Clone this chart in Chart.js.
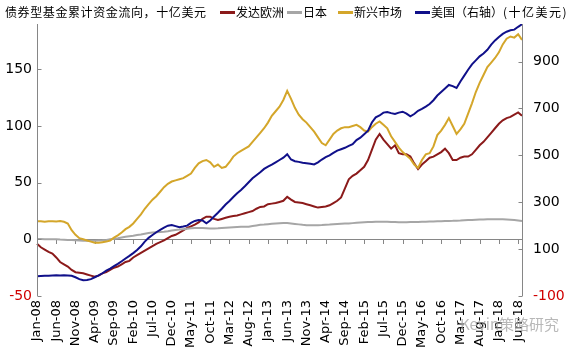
<!DOCTYPE html>
<html>
<head>
<meta charset="utf-8">
<script src="https://cdn.jsdelivr.net/npm/chart.js@4.4.0/dist/chart.umd.min.js"></script>
<style>
    body { margin: 0; background: #fff; }
    #wrap { position: relative; width: 570px; height: 350px; }
    .txt { position: absolute; font-family: "Noto Sans CJK SC"; font-size: 12px; line-height: 14px; color: #000; white-space: nowrap; }
    .sw { position: absolute; width: 15px; height: 3px; }
    .wm { position: absolute; font-family: "Noto Sans CJK SC", "DejaVu Sans"; font-size: 15px; color: rgba(160,160,160,0.75); white-space: nowrap; }
</style>
</head>
<body>
<div id="wrap">
    <canvas id="chart" width="570" height="350"></canvas>
</div>
<script>
// 月份 Jan-08 .. Jul-18
const MONTHS = ['Jan','Feb','Mar','Apr','May','Jun','Jul','Aug','Sep','Oct','Nov','Dec'];
const YEARS = ['08','09','10','11','12','13','14','15','16','17','18'];
const categories = [];
YEARS.forEach(y => MONTHS.forEach(m => categories.push(m + '-' + y)));
categories.length = 127;

const tickLabels = ['Jan-08','Jun-08','Nov-08','Apr-09','Sep-09','Feb-10','Jul-10','Dec-10','May-11','Oct-11',
    'Mar-12','Aug-12','Jan-13','Jun-13','Nov-13','Apr-14','Sep-14','Feb-15','Jul-15','Dec-15',
    'May-16','Oct-16','Mar-17','Aug-17','Jan-18','Jun-18'];
const leftTicks = [-50, 0, 50, 100, 150];
const rightTicks = [-100, 100, 300, 500, 700, 900];

const seriesNames = ['发达欧洲', '日本', '新兴市场', '美国（右轴）'];
const seriesColors = ['#8b1a1a', '#a6a6a6', '#d4a62a', '#10108a'];

// 发达欧洲
const europe = [-4,-7,-9,-11,-12.5,-16,-20,-22,-24,-27,-29,-29.5,-30,-31,-32,-33,-32,-30,-29,-27,
    -25,-24,-22,-20,-19,-16,-14,-12,-10,-8,-6,-4,-2.5,-1,1,3,4,6,8,10,
    11.5,13,15,18,20,20,18,17,18,19,20,20.5,21,22,23,24,25,27,28.6,29,
    31,31.5,32,33,34,37.5,35,33,32.5,32,31,30,29,28,28.5,29,30,32,34,37,
    45,53,56,58,61,64,70,79,88,93,88,84,80,83,76,75,75,73,67,62,
    66,69,72,73,75,77,80,76,70,70,72,73,73,75,79,83,86,90,94,98,
    102,105,107,108,110,112,109];
// 日本
const japan = [0.3,0.2,0.1,0,0,0,-0.2,-0.3,-0.5,-0.6,-0.8,-1,-1.2,-1.3,-1.3,-1.2,-1,-0.8,-0.5,0,
    0.5,1,1.6,2.2,2.7,3.2,3.8,4.3,5,5.6,6,6.3,6.5,6.7,7.2,7.8,8.3,8.6,9,9.4,
    9.8,10,10,10,9.8,9.6,9.5,9.7,10,10.2,10.4,10.6,10.8,11,11,11.2,11.8,12.3,12.8,13,
    13.4,13.8,14,14.2,14.4,14.4,14,13.6,13.2,12.8,12.5,12.4,12.4,12.5,12.6,12.8,13,13.3,13.6,13.8,
    14,14,14.3,14.6,14.8,15,15.2,15.4,15.5,15.5,15.6,15.5,15.4,15.2,15,15,15.1,15.2,15.3,15.4,
    15.5,15.6,15.7,15.8,16,16,16.1,16.2,16.3,16.5,16.6,16.8,17,17.1,17.3,17.5,17.6,17.7,17.8,17.8,
    17.8,17.7,17.5,17.3,17,16.6,16.2];
// 新兴市场
const emerging = [16,16,15.5,16,16,15.8,16.2,15.5,14,8,4,1,0,-1,-2,-3,-3,-2.5,-2,-1,
    1.5,3.5,6,9,11,14,18,22,27,31,35,38,42,46,49,51,52,53,54,56,
    58,63,67,69,70,68,64,66,63,64,68,73,76,78,80,82,86,90,94,98,
    103,109,113,117,123,131,124,116,110,106,103,99,95,90,85,83,88,93,96,98,
    99,99,100,101,99,96,95,99,102,104,101,98,91,86,81,77,74,71,66,63,
    70,75,76,82,92,96,101,107,100,93,97,102,111,120,130,138,145,152,156,160,
    165,172,177,179,178,181,176];
// 美国（右轴）
const usa = [-16,-15,-14,-14,-13,-12,-13,-12,-13,-14,-20,-28,-33,-32,-28,-20,-12,-3,8,17,
    27,37,48,60,71,83,96,112,132,148,160,172,182,192,200,203,198,193,196,200,
    212,220,224,222,210,222,239,255,272,290,305,322,338,352,368,385,402,415,428,442,
    452,460,470,480,490,505,482,475,472,468,466,464,461,470,482,492,500,510,520,526,
    532,540,547,565,575,590,605,640,662,670,682,685,680,676,682,686,678,666,676,690,
    698,708,719,735,755,770,785,800,795,787,815,840,865,888,905,922,934,950,972,990,
    1005,1018,1027,1033,1036,1048,1059];

const seriesData = [europe, japan, emerging, usa];
const AXIS_COLOR = '#868686';
const NEG_COLOR = '#d00000';

// 标题与图例
const wrap = document.getElementById('wrap');
function addText(text, left, top, extra) {
    const el = document.createElement('div');
    el.className = 'txt';
    el.textContent = text;
    el.style.left = left + 'px';
    el.style.top = top + 'px';
    if (extra) Object.assign(el.style, extra);
    wrap.appendChild(el);
}
addText('债券型基金累计资金流向，十亿美元', 5, 5, { letterSpacing: '0.6px' });

const legendX = [220, 287, 338, 415];
seriesNames.forEach((name, i) => {
    const sw = document.createElement('div');
    sw.className = 'sw';
    sw.style.left = legendX[i] + 'px';
    sw.style.top = '11px';
    sw.style.background = seriesColors[i];
    wrap.appendChild(sw);
    addText(name, legendX[i] + 16, 5);
});
addText('(十亿美元)', 503, 5, { letterSpacing: '1.5px' });

const wm = document.createElement('div');
wm.className = 'wm';
wm.textContent = 'Kevin策略研究';
wm.style.left = '460px';
wm.style.top = '313px';
wrap.appendChild(wm);

// 坐标轴线、零线与刻度
const axisPlugin = {
    id: 'axisLines',
    beforeDatasetsDraw(chart) {
        const { ctx, chartArea: a, scales } = chart;
        const y0 = scales.yL.getPixelForValue(0);
        ctx.save();
        ctx.strokeStyle = AXIS_COLOR;
        ctx.lineWidth = 1;
        ctx.beginPath();
        ctx.moveTo(a.left, Math.round(y0) + 0.5);
        ctx.lineTo(a.right, Math.round(y0) + 0.5);
        categories.forEach((c, i) => {
            if (!tickLabels.includes(c)) return;
            const x = Math.round(scales.x.getPixelForValue(i)) + 0.5;
            ctx.moveTo(x, Math.round(y0));
            ctx.lineTo(x, Math.round(y0) + 5);
        });
        ctx.stroke();
        ctx.restore();
    },
    afterDraw(chart) {
        const { ctx, chartArea: a, scales } = chart;
        const xl = Math.round(a.left) + 0.5;
        const xr = Math.round(a.right) + 0.5;
        ctx.save();
        ctx.strokeStyle = AXIS_COLOR;
        ctx.lineWidth = 1;
        ctx.beginPath();
        ctx.moveTo(xl, a.top);
        ctx.lineTo(xl, a.bottom);
        ctx.moveTo(xr, a.top);
        ctx.lineTo(xr, a.bottom);
        leftTicks.forEach(v => {
            const y = Math.round(scales.yL.getPixelForValue(v)) + 0.5;
            ctx.moveTo(xl, y);
            ctx.lineTo(xl + 4, y);
        });
        rightTicks.forEach(v => {
            const y = Math.round(scales.yR.getPixelForValue(v)) + 0.5;
            ctx.moveTo(xr, y);
            ctx.lineTo(xr - 4, y);
        });
        ctx.stroke();
        ctx.restore();
    }
};

new Chart(document.getElementById('chart').getContext('2d'), {
    type: 'line',
    data: {
        labels: categories,
        datasets: seriesData.map((d, i) => ({
            label: seriesNames[i],
            data: d,
            borderColor: seriesColors[i],
            backgroundColor: seriesColors[i],
            borderWidth: 2,
            pointRadius: 0,
            tension: 0,
            yAxisID: i === 3 ? 'yR' : 'yL',
            order: 4 - i
        }))
    },
    options: {
        responsive: false,
        devicePixelRatio: 1,
        animation: false,
        layout: { padding: { top: 24, left: 0, right: 0, bottom: 0 } },
        plugins: {
            legend: { display: false },
            tooltip: { enabled: false }
        },
        scales: {
            x: {
                type: 'category',
                offset: false,
                grid: { display: false, drawTicks: false },
                border: { display: false },
                ticks: {
                    autoSkip: false,
                    minRotation: 90,
                    maxRotation: 90,
                    padding: 4,
                    color: '#000',
                    font: { family: 'DejaVu Sans', size: 13 },
                    callback: function (val) {
                        const lab = this.getLabelForValue(val);
                        return tickLabels.includes(lab) ? lab : null;
                    }
                },
                afterFit(axis) { axis.height = 54; }
            },
            yL: {
                type: 'linear',
                position: 'left',
                min: -50,
                max: 190,
                grid: { display: false, drawTicks: false },
                border: { display: false },
                afterBuildTicks(axis) { axis.ticks = leftTicks.map(v => ({ value: v })); },
                ticks: {
                    padding: 5,
                    font: { family: 'DejaVu Sans', size: 14 },
                    color: ctx => ctx.tick && ctx.tick.value < 0 ? NEG_COLOR : '#000'
                },
                afterFit(axis) { axis.width = 37; }
            },
            yR: {
                type: 'linear',
                position: 'right',
                min: -100,
                max: 1060,
                grid: { display: false, drawTicks: false },
                border: { display: false },
                afterBuildTicks(axis) { axis.ticks = rightTicks.map(v => ({ value: v })); },
                ticks: {
                    padding: 11,
                    font: { family: 'DejaVu Sans', size: 14 },
                    color: ctx => ctx.tick && ctx.tick.value < 0 ? NEG_COLOR : '#000'
                },
                afterFit(axis) { axis.width = 48; }
            }
        }
    },
    plugins: [axisPlugin]
});
</script>
</body>
</html>
